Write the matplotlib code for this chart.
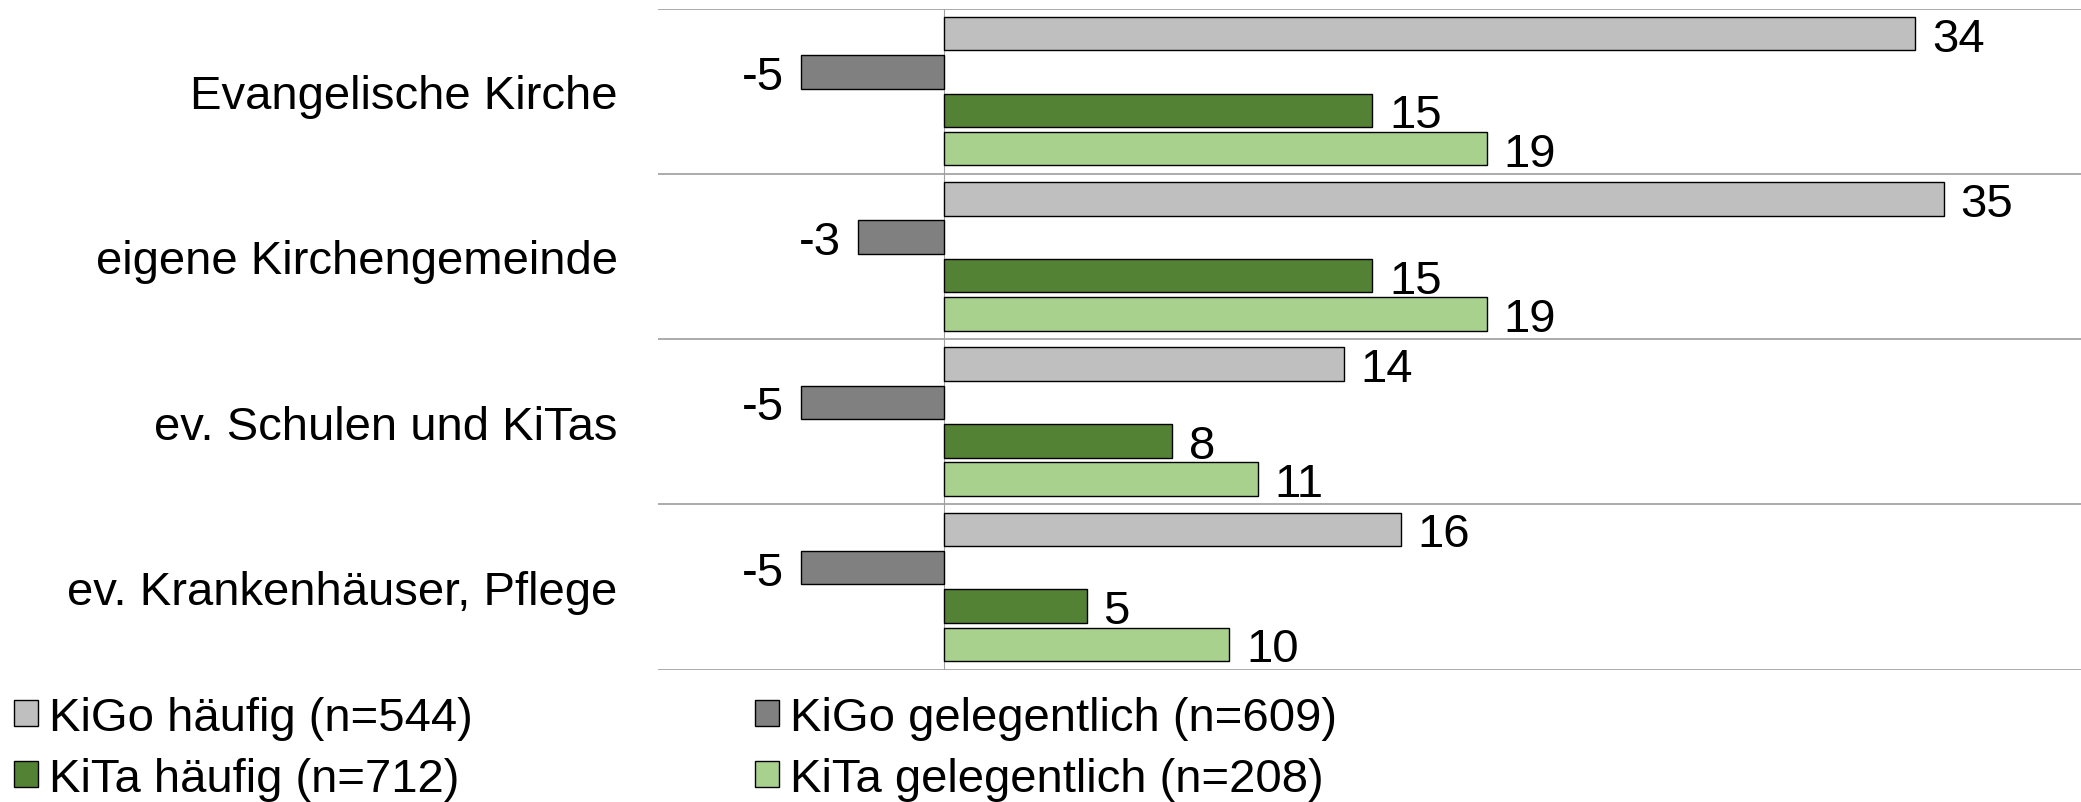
import numpy as np
import matplotlib
matplotlib.use("Agg")
import matplotlib.pyplot as plt

plt.rcParams["font.family"] = ["Liberation Sans", "DejaVu Sans"]

# Data
categories = ["Evangelische Kirche", "eigene Kirchengemeinde",
              "ev. Schulen und KiTas", "ev. Krankenhäuser, Pflege"]
series = ["KiGo häufig (n=544)", "KiGo gelegentlich (n=609)",
          "KiTa häufig (n=712)", "KiTa gelegentlich (n=208)"]
kigo_haeufig = [34, 35, 14, 16]
kigo_gelegentlich = [-5, -3, -5, -5]
kita_haeufig = [15, 15, 8, 5]
kita_gelegentlich = [19, 19, 11, 10]

values = [kigo_haeufig, kigo_gelegentlich, kita_haeufig, kita_gelegentlich]
colors = ["#BFBFBF", "#808080", "#548235", "#A9D18E"]

fig = plt.figure(figsize=(20.81, 8.03), dpi=100)
ax = fig.add_axes([658 / 2081, 1 - 670.5 / 803, 1 - 658 / 2081, (670.5 - 9.5) / 803])

y = np.arange(len(categories))
step = 0.232
height = 0.203
offsets = (np.arange(len(series)) - 1.5) * step

handles = []
for vals, off, col, name in zip(values, offsets, colors, series):
    bars = ax.barh(y + off, vals, height=height, color=col, edgecolor="black",
                   linewidth=1.0, label=name)
    texts = ax.bar_label(bars, labels=[str(v) for v in vals], padding=12, fontsize=34)
    for t in texts:
        # nudge labels down a little, like the original
        t.xyann = (t.xyann[0], -3.6)
    handles.append(bars)

# category separators and zero line
for b in np.arange(len(categories) + 1) - 0.5:
    ax.axhline(b, color="#ABABAB", linewidth=1.4, zorder=0)
ax.axvline(0, color="#A0A0A0", linewidth=0.8, zorder=0)

ax.set_xlim(-10, 39.8)
ax.set_ylim(len(categories) - 0.5, -0.5)
ax.set_yticks(y)
ax.set_yticklabels(categories, fontsize=34)
ax.tick_params(axis="y", length=0, pad=29)
ax.set_xticks([])
for s in ax.spines.values():
    s.set_visible(False)

# legend: rows are KiGo / KiTa
order = [0, 2, 1, 3]
fig.legend([handles[i] for i in order], [series[i] for i in order],
           loc="upper left", bbox_to_anchor=(14 / 2081, 1 - 697 / 803),
           ncol=2, frameon=False, fontsize=34, handlelength=0.5,
           handleheight=0.47, handletextpad=0.25, columnspacing=5.97,
           labelspacing=0.35, borderpad=0, borderaxespad=0)

fig.savefig("out.png", dpi=100)
